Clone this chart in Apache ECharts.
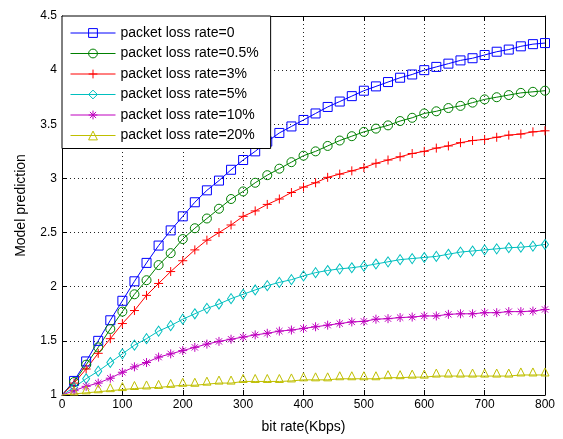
<!DOCTYPE html>
<html>
<head>
<meta charset="utf-8">
<script src="https://cdn.jsdelivr.net/npm/echarts@6/dist/echarts.min.js"></script>
<style>
  html, body { margin: 0; padding: 0; background: #fff; }
  #chart { width: 563px; height: 439px; }
</style>
</head>
<body>
<div id="chart"></div>
<script>
// bit rate (Kbps), one point every 20
var bitRate = [0, 20, 40, 60, 80, 100, 120, 140, 160, 180, 200, 220, 240, 260, 280, 300, 320, 340, 360, 380, 400,
  420, 440, 460, 480, 500, 520, 540, 560, 580, 600, 620, 640, 660, 680, 700, 720, 740, 760, 780, 800];

var loss0 = [1.00, 1.13, 1.31, 1.50, 1.69, 1.87, 2.05, 2.22, 2.38, 2.52, 2.65, 2.78, 2.89, 2.98, 3.08, 3.17, 3.25, 3.34, 3.42, 3.48, 3.54,
  3.60, 3.66, 3.71, 3.76, 3.81, 3.85, 3.89, 3.93, 3.96, 4.00, 4.03, 4.06, 4.09, 4.11, 4.14, 4.17, 4.19, 4.22, 4.24, 4.25];
var loss05 = [1.00, 1.12, 1.28, 1.44, 1.61, 1.77, 1.93, 2.06, 2.20, 2.31, 2.44, 2.54, 2.63, 2.72, 2.81, 2.88, 2.96, 3.03, 3.09, 3.15, 3.21,
  3.25, 3.30, 3.35, 3.39, 3.43, 3.46, 3.49, 3.53, 3.56, 3.60, 3.62, 3.65, 3.67, 3.70, 3.73, 3.75, 3.77, 3.79, 3.80, 3.81];
var loss3 = [1.00, 1.11, 1.24, 1.385, 1.52, 1.66, 1.78, 1.92, 2.03, 2.14, 2.24, 2.34, 2.43, 2.50, 2.57, 2.65, 2.70, 2.76, 2.81, 2.87, 2.92,
  2.96, 3.01, 3.04, 3.07, 3.10, 3.14, 3.17, 3.20, 3.23, 3.25, 3.28, 3.30, 3.33, 3.35, 3.36, 3.38, 3.40, 3.41, 3.43, 3.44];
var loss5 = [1.00, 1.07, 1.15, 1.22, 1.30, 1.38, 1.46, 1.52, 1.59, 1.64, 1.70, 1.75, 1.80, 1.84, 1.89, 1.93, 1.97, 2.01, 2.04, 2.065, 2.10,
  2.13, 2.15, 2.165, 2.175, 2.19, 2.21, 2.23, 2.25, 2.26, 2.27, 2.28, 2.30, 2.32, 2.33, 2.34, 2.35, 2.36, 2.365, 2.375, 2.39];
var loss10 = [1.00, 1.04, 1.08, 1.11, 1.155, 1.21, 1.26, 1.30, 1.35, 1.38, 1.41, 1.44, 1.47, 1.495, 1.515, 1.535, 1.555, 1.57, 1.59, 1.60, 1.615,
  1.63, 1.645, 1.66, 1.675, 1.68, 1.70, 1.705, 1.715, 1.72, 1.73, 1.73, 1.745, 1.75, 1.75, 1.76, 1.76, 1.77, 1.77, 1.775, 1.79];
var loss20 = [1.00, 1.01, 1.02, 1.03, 1.04, 1.05, 1.06, 1.065, 1.07, 1.08, 1.09, 1.09, 1.10, 1.11, 1.11, 1.125, 1.125, 1.125, 1.125, 1.13, 1.14,
  1.14, 1.14, 1.15, 1.15, 1.15, 1.15, 1.16, 1.16, 1.165, 1.165, 1.175, 1.175, 1.175, 1.175, 1.175, 1.175, 1.175, 1.185, 1.185, 1.185];

var seriesNames = ['packet loss rate=0', 'packet loss rate=0.5%', 'packet loss rate=3%',
  'packet loss rate=5%', 'packet loss rate=10%', 'packet loss rate=20%'];
var xTicks = { min: 0, max: 800, interval: 100 };
var yTicks = { min: 1, max: 4.5, interval: 0.5 };

var font = '"Liberation Sans", Arial, sans-serif';

// matlab style markers
var plusPath = 'path://M0,5L10,5M5,0L5,10';
var starPath = 'path://M0,5L10,5M5,0L5,10M1.5,1.5L8.5,8.5M1.5,8.5L8.5,1.5';

var styles = [
  { color: '#0000ff', symbol: 'rect', size: 9 },
  { color: '#008000', symbol: 'circle', size: 9 },
  { color: '#ff0000', symbol: plusPath, size: 9 },
  { color: '#00bfbf', symbol: 'diamond', size: [7, 10] },
  { color: '#bf00bf', symbol: starPath, size: 9 },
  { color: '#bfbf00', symbol: 'triangle', size: 8, offset: [0, -3] }
];

var values = [loss0, loss05, loss3, loss5, loss10, loss20];

function buildData(ys) {
  var out = [];
  for (var i = 0; i < bitRate.length; i++) {
    if (i === 0) {
      out.push({ value: [bitRate[i], ys[i]], symbol: 'none' });
    } else {
      out.push([bitRate[i], ys[i]]);
    }
  }
  return out;
}

var series = [];
for (var i = 0; i < values.length; i++) {
  var st = styles[i];
  series.push({
    name: seriesNames[i],
    type: 'line',
    data: buildData(values[i]),
    symbol: st.symbol,
    symbolSize: st.size,
    symbolOffset: st.offset || [0, 0],
    clip: false,
    lineStyle: { color: st.color, width: 1 },
    itemStyle: { color: 'rgba(0,0,0,0)', borderColor: st.color, borderWidth: 1 },
    emphasis: { disabled: true }
  });
}

var chart = echarts.init(document.getElementById('chart'), null, { renderer: 'canvas' });

var option = {
  animation: false,
  backgroundColor: '#fff',
  textStyle: { fontFamily: font },
  grid: { left: 62, right: 18, top: 16, bottom: 42, containLabel: false },
  legend: {
    orient: 'vertical',
    left: 62,
    top: 16,
    data: seriesNames,
    itemWidth: 45,
    itemHeight: 11,
    itemGap: 6.5,
    padding: [10, 12, 6, 8],
    backgroundColor: '#fff',
    borderColor: '#000',
    borderWidth: 1,
    borderRadius: 0,
    selectedMode: false,
    lineStyle: { width: 1 },
    itemStyle: { borderWidth: 1 },
    textStyle: { fontFamily: font, fontSize: 14, color: '#000' }
  },
  xAxis: [
    {
      type: 'value',
      min: xTicks.min, max: xTicks.max, interval: xTicks.interval,
      name: 'bit rate(Kbps)',
      nameLocation: 'middle',
      nameGap: 25,
      nameTextStyle: { fontFamily: font, fontSize: 14, color: '#000' },
      axisLine: { show: true, onZero: false, lineStyle: { color: '#000', width: 1 } },
      axisTick: { show: true, inside: true, length: 5, lineStyle: { color: '#000' } },
      axisLabel: { fontFamily: font, fontSize: 12, color: '#000', margin: 4 },
      splitLine: { show: true, lineStyle: { color: '#222', width: 1, type: [1, 3] } }
    },
    {
      type: 'value', position: 'top',
      min: xTicks.min, max: xTicks.max, interval: xTicks.interval,
      axisLine: { show: true, onZero: false, lineStyle: { color: '#000', width: 1 } },
      axisTick: { show: true, inside: true, length: 5, lineStyle: { color: '#000' } },
      axisLabel: { show: false },
      splitLine: { show: false }
    }
  ],
  yAxis: [
    {
      type: 'value',
      min: yTicks.min, max: yTicks.max, interval: yTicks.interval,
      name: 'Model prediction',
      nameLocation: 'middle',
      nameGap: 34,
      nameRotate: 90,
      nameTextStyle: { fontFamily: font, fontSize: 14, color: '#000' },
      axisLine: { show: true, onZero: false, lineStyle: { color: '#000', width: 1 } },
      axisTick: { show: true, inside: true, length: 5, lineStyle: { color: '#000' } },
      axisLabel: { fontFamily: font, fontSize: 12, color: '#000', margin: 5 },
      splitLine: { show: true, lineStyle: { color: '#222', width: 1, type: [1, 3] } }
    },
    {
      type: 'value', position: 'right',
      min: yTicks.min, max: yTicks.max, interval: yTicks.interval,
      axisLine: { show: true, onZero: false, lineStyle: { color: '#000', width: 1 } },
      axisTick: { show: true, inside: true, length: 5, lineStyle: { color: '#000' } },
      axisLabel: { show: false },
      splitLine: { show: false }
    }
  ],
  series: series
};

chart.setOption(option);
</script>
</body>
</html>
